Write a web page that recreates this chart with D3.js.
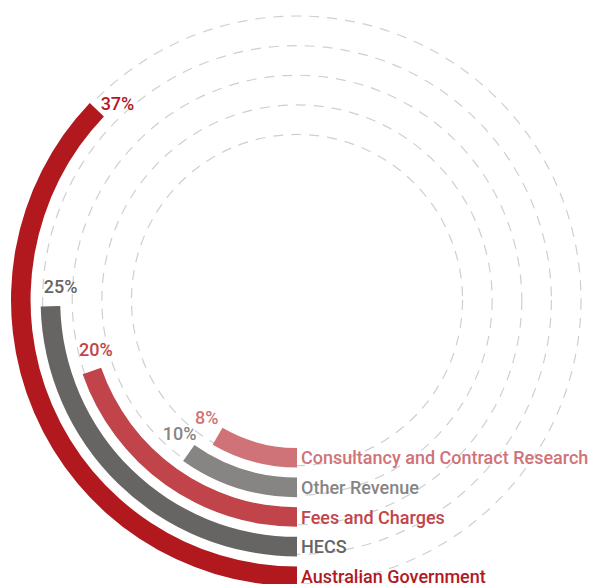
<!DOCTYPE html>
<html>
<head>
<meta charset="utf-8">
<script src="https://cdn.jsdelivr.net/npm/d3@7"></script>
<style>
  body { margin: 0; background: #fff; }
  text { font-family: "Roboto", "Open Sans", sans-serif; font-weight: 500; }
</style>
</head>
<body>
<svg id="chart"></svg>
<script>
// revenue share by source, inner ring to outer ring
const categories = [
  "Consultancy and Contract Research",
  "Other Revenue",
  "Fees and Charges",
  "HECS",
  "Australian Government",
];
const shares = [8.4, 9.8, 19.7, 24.6, 37.1];
const colors = ["#d07378", "#878583", "#c1444b", "#666563", "#b1191f"];

const width = 592;
const height = 584;
const cx = 297;
const cy = 300;

const svg = d3.select("#chart").attr("width", width).attr("height", height);
const g = svg.append("g").attr("transform", `translate(${cx}, ${cy})`);

const rScale = d3
  .scaleBand()
  .domain(categories)
  .range([148, 286])
  .paddingInner(0.34);

// 0% at the bottom, running clockwise
const angle = d3
  .scaleLinear()
  .domain([0, 100])
  .range([Math.PI, 3 * Math.PI]);

const data = categories.map((c, i) => ({
  name: c,
  value: shares[i],
  color: colors[i],
}));

// dashed guide rings
g.selectAll("circle.ring")
  .data(data)
  .join("circle")
  .attr("class", "ring")
  .attr("r", (d) => rScale(d.name) + rScale.bandwidth() - 2)
  .attr("fill", "none")
  .attr("stroke", "#cfcfcf")
  .attr("stroke-width", 1.2)
  .attr("stroke-dasharray", "10 8");

const arc = d3
  .arc()
  .innerRadius((d) => rScale(d.name))
  .outerRadius((d) => rScale(d.name) + rScale.bandwidth())
  .startAngle(angle(0))
  .endAngle((d) => angle(d.value));

g.selectAll("path.bar")
  .data(data)
  .join("path")
  .attr("class", "bar")
  .attr("d", arc)
  .attr("fill", (d) => d.color);

// percentage labels just past the end of each arc
g.selectAll("text.pct")
  .data(data)
  .join("text")
  .attr("class", "pct")
  .each(function (d) {
    const r = rScale(d.name);
    const a = angle(d.value) + 19 / r;
    d3.select(this)
      .attr("x", Math.sin(a) * r)
      .attr("y", -Math.cos(a) * r);
  })
  .attr("text-anchor", "middle")
  .attr("dominant-baseline", "central")
  .attr("font-size", 18)
  .attr("fill", (d) => d.color)
  .text((d) => Math.round(d.value) + "%");

// category names at the start of each arc
g.selectAll("text.name")
  .data(data)
  .join("text")
  .attr("class", "name")
  .attr("x", 4)
  .attr("y", (d) => rScale(d.name) + rScale.bandwidth() / 2)
  .attr("dominant-baseline", "central")
  .attr("font-size", 18)
  .attr("fill", (d) => d.color)
  .text((d) => d.name);
</script>
</body>
</html>
